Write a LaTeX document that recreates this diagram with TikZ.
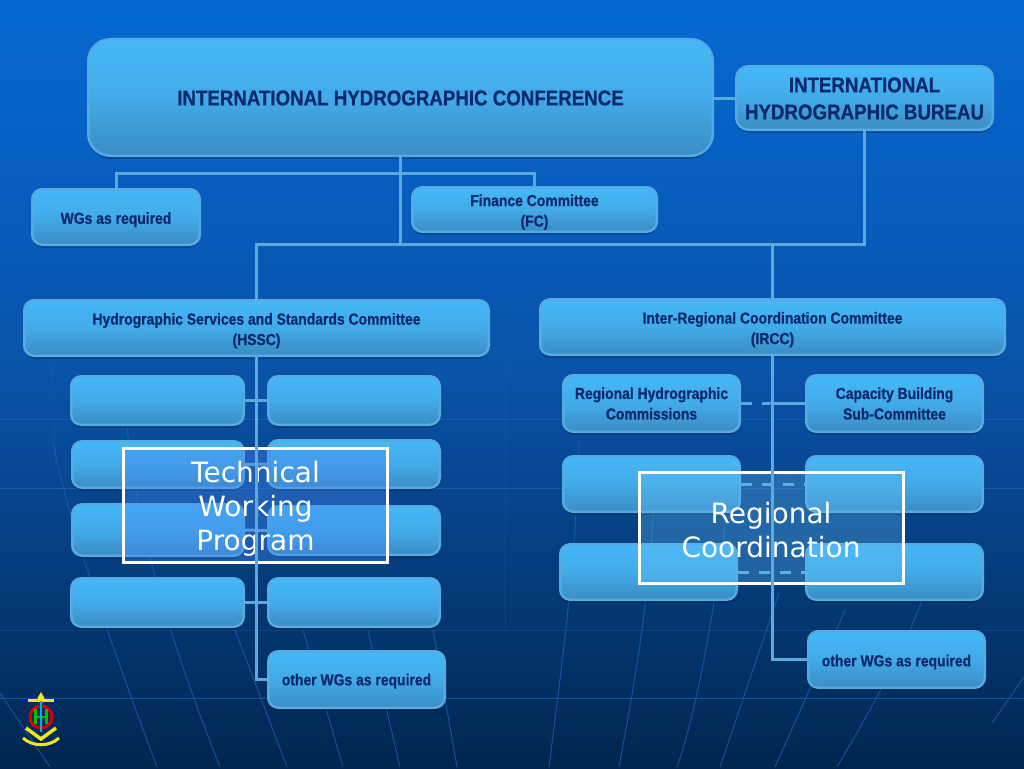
\documentclass[tikz,border=0pt]{standalone}
\usepackage{fontspec}
\setmainfont{Liberation Sans}[BoldFont={Liberation Sans Bold},BoldFeatures={FakeStretch=0.87,FakeBold=0.8},FakeStretch=0.87]
\newfontfamily\ovfont{DejaVu Sans}
\usetikzlibrary{calc}
\definecolor{boxtop}{HTML}{45B8F8}
\definecolor{boxbot}{HTML}{3B8CC4}
\definecolor{boxedge}{HTML}{55ABE2}
\definecolor{boxtxt}{HTML}{0B2A6E}
\definecolor{bgtop}{HTML}{0469D4}
\definecolor{bgmid}{HTML}{0A52A8}
\definecolor{bgbot}{HTML}{00264F}
\definecolor{gridc}{HTML}{1C62B4}
\definecolor{linkc}{HTML}{5CA9DB}
\definecolor{logoy}{HTML}{F2E51E}
\newcommand{\uppad}{\rule{0pt}{17pt}}
\tikzset{
  x=1pt,y=-1pt,
  orgbox/.style={rounded corners=#1,draw=boxedge,line width=2.5pt,
    top color=boxtop,bottom color=boxbot,middle color=boxtop!70!boxbot,
    text=boxtxt,font=\bfseries\fontsize{16}{20.5}\selectfont,align=center,inner sep=0pt,
    preaction={draw=none,fill=black,fill opacity=.25,rounded corners=#1,transform canvas={yshift=-3pt}}},
  orgbox/.default=10pt,
  bigtxt/.style={font=\bfseries\fontsize{21.5}{27}\selectfont},
  link/.style={draw=linkc,line width=3pt},
  dlink/.style={draw=linkc,line width=3pt,dash pattern=on 11pt off 10pt},
  gridl/.style={draw=gridc,line width=1pt,opacity=.7},
  gridf/.style={draw=gridc,line width=1pt,opacity=.3},
  ovbox/.style={draw=white,line width=3pt,text=white,align=center,inner sep=0pt,
     font=\ovfont\fontsize{28}{34}\selectfont}
}
\newcommand{\orgnode}[7][orgbox]{% options,name,x0,y0,x1,y1,text
  \node[#1,minimum width={#5-#3-2.5},minimum height={#6-#4-2.5}] (#2) at ({(#3+#5)/2},{(#4+#6)/2}) {#7};}
\begin{document}
\begin{tikzpicture}
\useasboundingbox (0,0) rectangle (1024,768);
% background
\shade[top color=bgtop,bottom color=bgmid] (0,0) rectangle (1024,380);
\shade[top color=bgmid,bottom color=bgbot] (0,380) rectangle (1024,768);
\draw[gridf] (0,348) -- (1024,348);
\draw[gridl] (0,419) -- (1024,419);
\draw[gridl] (0,488) -- (1024,488);
\draw[gridf] (0,630) -- (1024,630);
\draw[gridl] (0,698) -- (1024,698);
\draw[gridl] (53,443) .. controls (65,500) and (85,575) .. (157,767);
\draw[gridl] (127,427) .. controls (135,500) and (150,590) .. (220,767);
\draw[gridl] (235,630) -- (287,767);
\draw[gridl] (303,630) -- (343,767);
\draw[gridl] (368,630) -- (400,767);
\draw[gridl] (433,630) -- (457,767);
\draw[gridl] (0,693) -- (50,767);
\draw[gridl] (579,440) .. controls (576,560) and (565,640) .. (549,767);
\draw[gridl] (655,480) .. controls (650,600) and (635,680) .. (619,767);
\draw[gridl] (725,527) .. controls (715,600) and (700,700) .. (677,767);
\draw[gridl] (779,593) -- (720,767);
\draw[gridl] (845,610) -- (775,767);
\draw[gridl] (922,600) .. controls (900,660) and (870,710) .. (837,767);
\draw[gridl] (1024,677) -- (992,723);
\draw[gridf] (505,360) -- (505,630);
\draw[gridf] (52,360) -- (56,470);
% boxes
\orgnode[{orgbox=22pt,bigtxt}]{ihc}{87}{38}{714}{157}{\rule{0pt}{16pt}INTERNATIONAL HYDROGRAPHIC CONFERENCE}
\orgnode[{orgbox=12pt,bigtxt}]{ihb}{735}{65}{994}{131}{\rule{0pt}{16pt}INTERNATIONAL\\HYDROGRAPHIC BUREAU}
\orgnode{wgs}{31}{188}{201}{246}{\uppad WGs as required}
\orgnode{fc}{411}{186}{658}{233}{\uppad Finance Committee\\(FC)}
\orgnode{hssc}{23}{299}{490}{357}{\uppad Hydrographic Services and Standards Committee\\(HSSC)}
\orgnode{ircc}{539}{298}{1006}{356}{\uppad Inter-Regional Coordination Committee\\(IRCC)}
\orgnode{aa}{70}{375}{245}{426}{}
\orgnode{ab}{267}{375}{441}{426}{}
\orgnode{ba}{71}{440}{245}{489}{}
\orgnode{bb}{267}{439}{441}{489}{}
\orgnode{ca}{71}{503}{245}{557}{}
\orgnode{cb}{267}{505}{441}{556}{}
\orgnode{da}{70}{577}{245}{628}{}
\orgnode{db}{267}{577}{441}{628}{}
\orgnode{lo}{267}{650}{446}{709}{\rule{0pt}{15pt}other WGs as required}
\orgnode{rhc}{562}{374}{741}{433}{Regional Hydrographic\\Commissions}
\orgnode{cbc}{805}{374}{984}{433}{Capacity Building\\Sub-Committee}
\orgnode{ra}{562}{455}{741}{513}{}
\orgnode{rb}{805}{455}{984}{513}{}
\orgnode{sa}{559}{543}{738}{601}{}
\orgnode{sb}{805}{543}{984}{601}{}
\orgnode{ro}{807}{630}{986}{689}{\uppad other WGs as required}
% connectors
\coordinate (j1) at (ihc.south |- 0,173);
\coordinate (j2) at (ihc.south |- 0,244);
\coordinate (j3) at (ircc.south |- rhc.east);
\draw[link] (ihc.east |- 0,98) -- (ihb.west |- 0,98);
\draw[link] (ihc.south) -- (j2);
\draw[link] (wgs.north) |- (j1);
\draw[link] (fc.north) |- (j1);
\draw[link] (hssc.north) |- (j2);
\draw[link] (ihb.south) |- (j2);
\draw[link] (ircc.north) -- (ircc.north |- j2);
\draw[link] (aa.east) -- (ab.west);
\draw[link] (ba.east) -- (bb.west);
\draw[link] (ca.east) -- (cb.west);
\draw[link] (da.east) -- (db.west);
\draw[dlink] (rhc.east) -- (j3);
\draw[link] (j3) -- (cbc.west);
\draw[dlink] (ra.east) -- (rb.west);
\draw[dlink] (sa.east) -- (sb.west);
% overlays
\node[ovbox,fill={rgb,255:red,69;green,135;blue,240},fill opacity=.38,text opacity=1,minimum width=264,minimum height=114] (twp) at (255.5,505.5) {\rule{0pt}{27pt}Technical\\Working\\Program};
\node[ovbox,fill={rgb,255:red,100;green,190;blue,245},fill opacity=.3,text opacity=1,minimum width=264,minimum height=111] (rcb) at (771,528) {\rule{0pt}{25pt}Regional\\Coordination};
% vertical connectors run over the overlays
\draw[link] (hssc.south) |- (lo.west);
\draw[link] (ircc.south) |- (ro.west);
\draw[draw=bgmid,line width=1pt,dash pattern=on 4pt off 4pt,transform canvas={xshift=-1.8pt}] (ircc.south) -- (ircc.south |- rcb.north);
% logo
\begin{scope}[shift={(41,717)}]
  \draw[logoy,line width=3pt] (-13,-17) -- (13,-17);
  \fill[logoy] (0,-25) -- (3.5,-19) -- (3,-15) -- (-3,-15) -- (-3.5,-19) -- cycle;
  \draw[red!85!black,line width=3pt] (0,0) circle (11);
  \draw[green!75!black,line width=2.2pt] (-5.5,-8) -- (-5.5,7) (5.5,-8) -- (5.5,7) (-5.5,0) -- (5.5,0);
  \draw[cyan,line width=2.8pt] (0,-16) -- (0,15);
  \draw[logoy,line width=3.5pt] (-15,11) -- (0,22) -- (15,11);
  \draw[logoy,line width=3pt] (-18,21) .. controls (-8,30) and (8,30) .. (18,21);
\end{scope}
\end{tikzpicture}
\end{document}
